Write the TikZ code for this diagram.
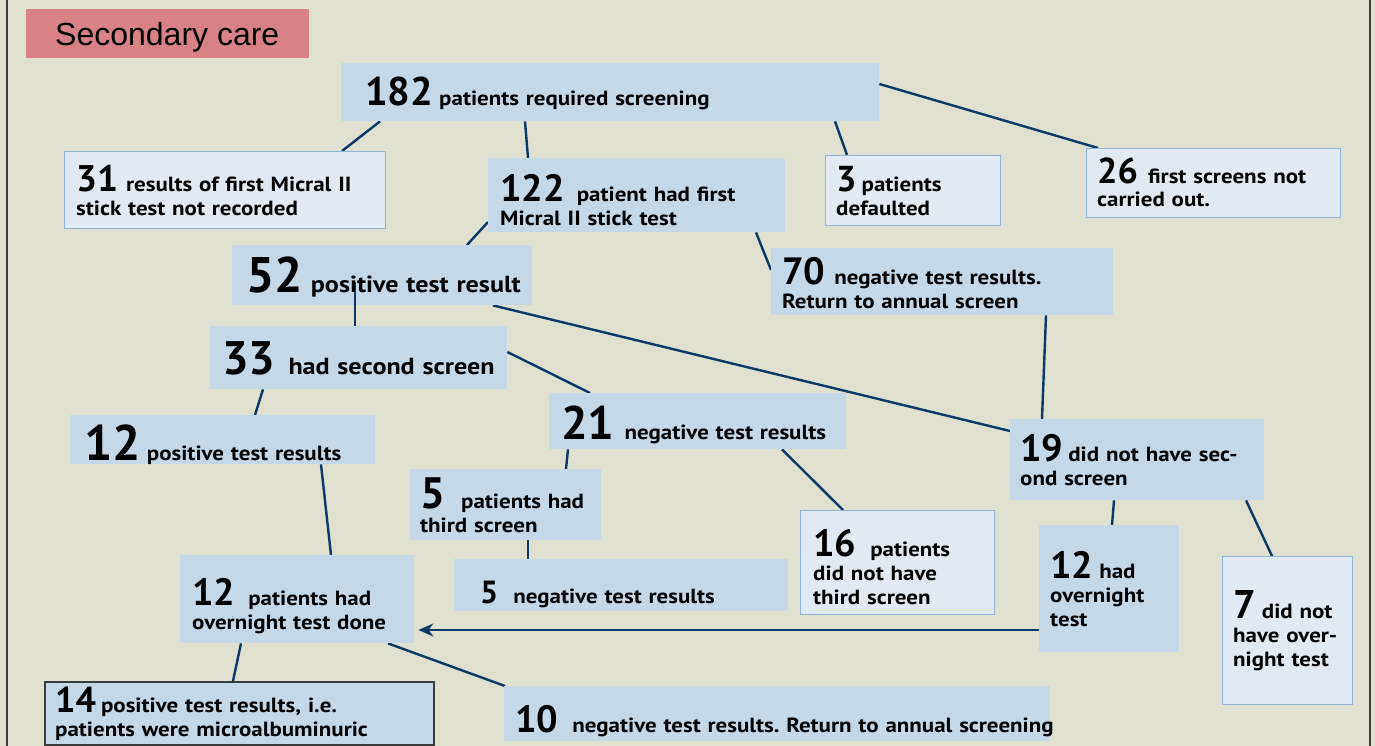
\documentclass[tikz,border=0pt]{standalone}
\usepackage{fontspec}
\setmainfont{PT Sans}[FakeStretch=1.12]
\newfontfamily\numf{PT Sans}
\newfontfamily\arialf{Liberation Sans}
\usetikzlibrary{arrows.meta,calc}
\pgfdeclarelayer{bgfill}
\pgfdeclarelayer{lines}
\pgfsetlayers{bgfill,lines,main}
\definecolor{bgc}{HTML}{DFE0D0}
\definecolor{boxblue}{HTML}{C5D8E8}
\definecolor{boxlight}{HTML}{E1E9F3}
\definecolor{boxedge}{HTML}{8FB3D9}
\definecolor{linec}{HTML}{0C3865}
\definecolor{pinkc}{HTML}{D88287}
\definecolor{framec}{HTML}{3A3A3A}
\tikzset{
  box/.style={fill=boxblue, draw=none, inner sep=0pt, anchor=north west},
  lbox/.style={fill=boxlight, draw=boxedge, line width=1.3pt, inner sep=0pt, anchor=north west},
  dbox/.style={fill=boxblue, draw=framec, line width=1.5pt, inner sep=0pt, anchor=north west},
  pbox/.style={fill=pinkc, draw=none, inner sep=0pt, anchor=north west},
  txt/.style={anchor=base west, inner sep=0pt, align=left, text width=600pt, font=\frenchspacing\bfseries\fontsize{20.5}{24}\selectfont},
  bigtxt/.style={txt, font=\frenchspacing\bfseries\fontsize{23.3}{27}\selectfont},
  conn/.style={draw=linec, line width=2.4pt},
  framel/.style={draw=framec, line width=2pt}
}
\newcommand\bx[6]{\node[#1, minimum width=#5pt, minimum height=#6pt] (#2) at (#3,#4) {};}
\newcommand\Nm[3]{{\numf\fontsize{#1}{#1}\selectfont #2}\hspace{#3pt}}
\begin{document}
\begin{tikzpicture}[x=1pt,y=-1pt]
\useasboundingbox (0,0) rectangle (1375,746);
\begin{pgfonlayer}{bgfill}
\fill[bgc] (0,0) rectangle (1375,746);
\end{pgfonlayer}
\coordinate (ftl) at (7,0); \coordinate (fbl) at (7,746);
\coordinate (ftr) at (1370,0); \coordinate (fbr) at (1370,746);
\draw[framel] (ftl) -- (fbl);
\draw[framel] (ftr) -- (fbr);

% boxes
\bx{pbox}{bsc}{26}{9}{283}{49}
\bx{box}{b182}{341}{63}{538}{58}
\bx{lbox}{b31}{64}{151}{321}{77}
\bx{box}{b122}{488}{158}{297}{74}
\bx{lbox}{b3}{825}{155}{175}{70}
\bx{lbox}{b26}{1086}{148}{254}{69}
\bx{box}{b52}{232}{245}{300}{60}
\bx{box}{b70}{771}{248}{342}{67}
\bx{box}{b33}{210}{326}{297}{63}
\bx{box}{b21}{549}{393}{297}{56}
\bx{box}{b12p}{70}{415}{305}{49}
\bx{box}{b19}{1010}{419}{254}{81}
\bx{box}{b5t}{410}{469}{191}{71}
\bx{lbox}{b16}{800}{510}{194}{104}
\bx{box}{b5n}{454}{559}{334}{52}
\bx{box}{b12o}{180}{555}{234}{88}
\bx{box}{b12h}{1039}{525}{140}{127}
\bx{lbox}{b7}{1222}{556}{130}{148}
\bx{dbox}{b14}{44}{681}{389}{63}
\bx{box}{b10}{504}{686}{546}{55}

% connectors behind boxes
\begin{pgfonlayer}{lines}
\draw[conn] ($(b182.south west)+(39,0)$) -- ($(b31.north west)+(278,0)$);
\draw[conn] ($(b182.south west)+(184,0)$) -- ($(b122.north west)+(40,0)$);
\draw[conn] ($(b182.south west)+(494,0)$) -- ($(b3.north west)+(22,0)$);
\draw[conn] ($(b182.north east)+(0,21)$) -- ($(b26.north west)+(12,0)$);
\draw[conn] ($(b122.north west)+(0,64)$) -- ($(b52.north west)+(235,0)$);
\draw[conn] ($(b122.south west)+(268,0)$) -- ($(b70.north west)+(0,22)$);
\draw[conn] ($(b52.south west)+(261,0)$) -- ($(b19.north west)+(0,12)$);
\draw[conn] ($(b70.south west)+(275,0)$) -- ($(b19.north west)+(32,0)$);
\draw[conn] ($(b33.north east)+(0,26)$) -- ($(b21.north west)+(41,0)$);
\draw[conn] ($(b33.south west)+(53,0)$) -- ($(b12p.north west)+(185,0)$);
\draw[conn] ($(b21.south west)+(19,0)$) -- ($(b5t.north west)+(156,0)$);
\draw[conn] ($(b21.south west)+(233,0)$) -- ($(b16.north west)+(43,0)$);
\draw[conn] ($(b12p.south west)+(251,0)$) -- ($(b12o.north west)+(151,0)$);
\draw[conn] ($(b5t.south west)+(118,0)$) -- ($(b5n.north west)+(74,0)$);
\draw[conn] ($(b19.south west)+(104,0)$) -- ($(b12h.north west)+(73,0)$);
\draw[conn] ($(b19.south west)+(236,0)$) -- ($(b7.north west)+(50,0)$);
\draw[conn] ($(b12o.south west)+(61,0)$) -- ($(b14.north west)+(189,0)$);
\draw[conn] ($(b12o.south west)+(208,0)$) -- ($(b10.north west)+(1,0)$);
\end{pgfonlayer}
% connector drawn over the 52 box
\draw[conn] ($(b52.north west)+(123,37)$) -- ($(b33.north west)+(145,0)$);
% arrow
\draw[conn, -{Stealth[length=15pt,width=13pt]}] ($(b12h.north west)+(0,105)$) -- ($(b12o.north east)+(4,75)$);

% texts
\node[anchor=base west, inner sep=0pt, font=\arialf\fontsize{32}{32}\selectfont] (tsc) at (55,46) {Secondary care};
\node[txt] (t182) at (365,106) {\Nm{40}{182}{6}patients required screening};
\node[txt] (t31) at (76,192) {\Nm{37}{31}{8}results of first Micral II\\stick test not recorded};
\node[txt] (t122) at (500,201) {\Nm{38}{122}{12}patient had first\\Micral II stick test};
\node[txt] (t3) at (836,192) {\Nm{36}{3}{5}patients\\defaulted};
\node[txt] (t26) at (1097,183) {\Nm{36}{26}{10}first screens not\\carried out.};
\node[bigtxt] (t52) at (246,292) {\Nm{50}{52}{8}positive test result};
\node[txt] (t70) at (782,284) {\Nm{38}{70}{9}negative test results.\\Return to annual screen};
\node[bigtxt] (t33) at (222,374) {\Nm{47}{33}{13}had second screen};
\node[txt] (t21) at (561,439) {\Nm{47}{21}{10}negative test results};
\node[txt] (t12p) at (84,460) {\Nm{50}{12}{6}positive test results};
\node[txt] (t19) at (1020,461) {\Nm{38}{19}{5}did not have sec-\\ond screen};
\node[txt] (t5t) at (420,508) {\Nm{44}{5}{16}patients had\\third screen};
\node[txt] (t16) at (813,556) {\Nm{38}{16}{14}patients\\did not have\\third screen};
\node[txt] (t5n) at (480,603) {\Nm{32}{5}{15}negative test results};
\node[txt] (t12o) at (192,605) {\Nm{38}{12}{13}patients had\\overnight test done};
\node[txt] (t12h) at (1050,578) {\Nm{38}{12}{6}had\\overnight\\test};
\node[txt] (t7) at (1233,618) {\Nm{40}{7}{6}did not\\have over-\\night test};
\node[txt] (t14) at (55,712) {\Nm{36}{14}{5}positive test results, i.e.\\patients were microalbuminuric};
\node[txt] (t10) at (515,732) {\Nm{38}{10}{14}negative test results. Return to annual screening};
\end{tikzpicture}
\end{document}
